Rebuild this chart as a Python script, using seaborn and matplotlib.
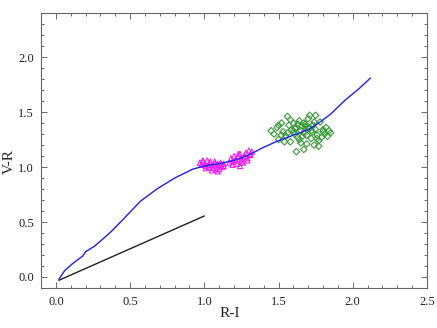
import matplotlib
matplotlib.use('Agg')
import matplotlib.pyplot as plt
from matplotlib.ticker import MultipleLocator, FormatStrFormatter
import pandas as pd
import seaborn as sns

# blue model track (R-I, V-R)
track_ri = [0.02, 0.06, 0.12, 0.18, 0.20, 0.26, 0.32, 0.37, 0.45, 0.57, 0.68, 0.80, 0.92,
            1.00, 1.10, 1.20, 1.30, 1.40, 1.50, 1.60, 1.70, 1.78, 1.85, 1.95, 2.04, 2.12]
track_vr = [-0.02, 0.06, 0.13, 0.19, 0.23, 0.28, 0.35, 0.41, 0.52, 0.69, 0.80, 0.90, 0.98,
            1.01, 1.03, 1.06, 1.11, 1.18, 1.24, 1.29, 1.34, 1.41, 1.48, 1.61, 1.71, 1.81]

# black reference line
ref_ri = [0.02, 1.00]
ref_vr = [-0.03, 0.555]

# magenta triangles
tri_ri = [0.97, 0.98, 0.99, 1.00, 1.01, 1.02, 1.03, 1.04, 1.05, 1.06, 1.07, 1.08, 1.09,
          1.10, 1.11, 1.12, 1.13, 0.99, 1.01, 1.03, 1.05, 1.07, 1.09, 1.11, 1.04, 1.08,
          1.13, 1.17, 1.18, 1.19, 1.20, 1.21, 1.22, 1.23, 1.24, 1.25, 1.26, 1.27, 1.28,
          1.29, 1.30, 1.31, 1.32, 1.19, 1.21, 1.23, 1.25, 1.27, 1.29, 1.31, 1.24]
tri_vr = [1.04, 1.02, 1.05, 1.03, 1.01, 1.06, 1.00, 1.04, 1.02, 0.99, 1.05, 1.01, 1.03,
          0.98, 1.04, 1.00, 1.03, 1.06, 0.99, 1.02, 0.97, 1.03, 0.96, 1.02, 1.05, 0.98,
          1.01, 1.04, 1.08, 1.05, 1.10, 1.06, 1.03, 1.09, 1.12, 1.07, 1.04, 1.10, 1.13,
          1.08, 1.15, 1.11, 1.14, 1.02, 1.07, 1.12, 1.05, 1.09, 1.06, 1.12, 1.01]

# green diamonds
dia_ri = [1.45, 1.47, 1.49, 1.50, 1.52, 1.53, 1.55, 1.56, 1.57, 1.58, 1.59, 1.60, 1.61,
          1.62, 1.62, 1.63, 1.64, 1.65, 1.65, 1.66, 1.67, 1.67, 1.68, 1.69, 1.70, 1.70,
          1.71, 1.72, 1.72, 1.73, 1.74, 1.75, 1.75, 1.76, 1.77, 1.78, 1.79, 1.80, 1.81,
          1.82, 1.83, 1.85, 1.50, 1.54, 1.58, 1.60, 1.63, 1.66, 1.69, 1.71, 1.74, 1.77,
          1.80, 1.56, 1.64, 1.68, 1.73, 1.52, 1.61, 1.67, 1.76, 1.84]
dia_vr = [1.33, 1.30, 1.36, 1.25, 1.40, 1.32, 1.28, 1.46, 1.38, 1.23, 1.34, 1.40, 1.30,
          1.14, 1.36, 1.27, 1.42, 1.33, 1.22, 1.37, 1.16, 1.31, 1.39, 1.29, 1.35, 1.44,
          1.47, 1.33, 1.26, 1.38, 1.20, 1.47, 1.34, 1.29, 1.24, 1.41, 1.27, 1.32, 1.30,
          1.36, 1.28, 1.31, 1.38, 1.23, 1.43, 1.32, 1.39, 1.28, 1.21, 1.36, 1.41, 1.19,
          1.34, 1.31, 1.25, 1.37, 1.32, 1.29, 1.35, 1.40, 1.26, 1.33]

sns.set_style("ticks")
plt.rcParams['font.family'] = ['Liberation Serif', 'DejaVu Serif']

fig = plt.figure(figsize=(4.37, 3.28), dpi=100)
ax = fig.add_axes([0.094, 0.122, 0.883, 0.838])

track = pd.DataFrame({'ri': track_ri, 'vr': track_vr})
sns.lineplot(data=track, x='ri', y='vr', sort=False, color='#2020f0', lw=1.0, ax=ax)
sns.lineplot(x=ref_ri, y=ref_vr, sort=False, color='#202020', lw=1.0, ax=ax)
sns.scatterplot(x=tri_ri, y=tri_vr, marker='^', s=14, facecolor='none',
                edgecolor='#f020f0', linewidth=0.8, ax=ax)
sns.scatterplot(x=dia_ri, y=dia_vr, marker='D', s=11, facecolor='none',
                edgecolor='#3a9a3a', linewidth=0.8, ax=ax)

ax.set_xlim(-0.1, 2.5)
ax.set_ylim(-0.1, 2.4)
ax.xaxis.set_major_locator(MultipleLocator(0.5))
ax.xaxis.set_minor_locator(MultipleLocator(0.1))
ax.yaxis.set_major_locator(MultipleLocator(0.5))
ax.yaxis.set_minor_locator(MultipleLocator(0.1))
ax.xaxis.set_major_formatter(FormatStrFormatter('%.1f'))
ax.yaxis.set_major_formatter(FormatStrFormatter('%.1f'))
ax.tick_params(which='both', direction='in', top=True, right=True,
               colors='#555555', labelcolor='#222222', labelsize=9, width=0.6)
ax.tick_params(which='major', length=4)
ax.tick_params(which='minor', length=2)
ax.tick_params(axis='x', which='major', pad=6)
ax.tick_params(axis='y', which='major', pad=5)
for s in ax.spines.values():
    s.set_color('#666666')
    s.set_linewidth(0.8)

ax.set_xlabel('R-I', fontsize=11)
ax.set_ylabel('V-R', fontsize=11)
ax.xaxis.set_label_coords(0.49, -0.07)
ax.yaxis.set_label_coords(-0.065, 0.46)

fig.savefig('out.png', dpi=100)
